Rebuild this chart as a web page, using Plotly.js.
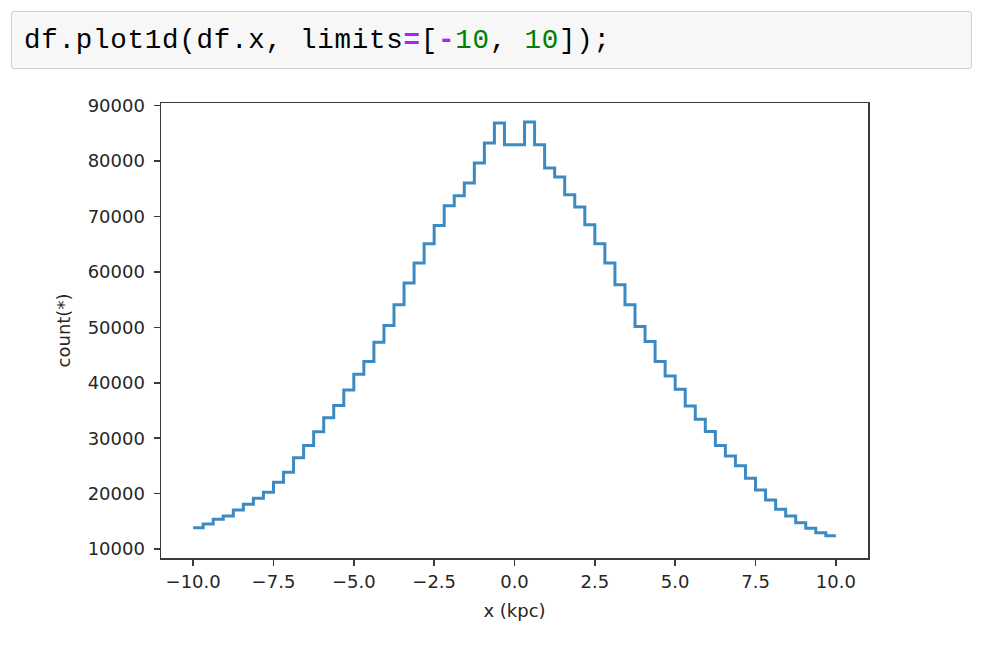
<!DOCTYPE html>
<html>
<head>
<meta charset="utf-8">
<script src="https://cdn.plot.ly/plotly-3.0.1.min.js"></script>
<style>
  html, body { margin: 0; padding: 0; background: #ffffff; width: 986px; height: 650px; overflow: hidden; }
  #chart { position: absolute; left: 0; top: 0; width: 986px; height: 650px; }
  #cell {
    position: absolute; left: 11px; top: 11px; width: 959px; height: 56px;
    background: #f7f7f7; border: 1px solid #cfcfcf; border-radius: 3px;
    z-index: 5;
  }
  #code {
    position: absolute; left: 12px; top: 14px; margin: 0;
    font-family: "Liberation Mono", "DejaVu Sans Mono", monospace;
    font-size: 27.5px; line-height: 30px; color: #000; white-space: pre;
    letter-spacing: 0.75px;
  }
  .op { color: #aa22ff; font-weight: bold; }
  .num { color: #008000; }
</style>
</head>
<body>
<div id="chart"></div>
<div id="cell"><pre id="code">df.plot1d(df.x, limits<span class="op">=</span>[<span class="op">-</span><span class="num">10</span>, <span class="num">10</span>]);</pre></div>
<script>
// Histogram of df.x, 64 bins over limits [-10, 10]
const limits = [-10, 10];
const counts = [
  13850, 14520, 15360, 15960, 17040, 18070, 19150, 20240,
  22050, 23850, 26490, 28660, 31180, 33710, 35880, 38710,
  41550, 43830, 47330, 50330, 54070, 58000, 61600, 65080,
  68390, 71950, 73750, 76040, 79650, 83270, 86880, 82960,
  82960, 87060, 82960, 78750, 77130, 73930, 71710, 68510,
  65080, 61600, 57680, 54070, 50150, 47440, 43830, 41240,
  38840, 35830, 33420, 31190, 28660, 26800, 25050, 22770,
  20660, 18850, 17170, 15960, 14750, 13740, 12940, 12400
];
const xTickVals = [-10, -7.5, -5, -2.5, 0, 2.5, 5, 7.5, 10];
const xTickText = ['\u221210.0', '\u22127.5', '\u22125.0', '\u22122.5', '0.0', '2.5', '5.0', '7.5', '10.0'];
const yTickVals = [10000, 20000, 30000, 40000, 50000, 60000, 70000, 80000, 90000];
const yTickText = ['10000', '20000', '30000', '40000', '50000', '60000', '70000', '80000', '90000'];
const xTitle = 'x (kpc)';
const yTitle = 'count(*)';

// bin edges from the limits (as vaex bins them)
const nBins = counts.length;
const edges = [];
for (let i = 0; i <= nBins; i++) edges.push(limits[0] + (limits[1] - limits[0]) * i / nBins);
const ySteps = counts.concat([counts[nBins - 1]]);

const trace = {
  x: edges, y: ySteps, type: 'scatter', mode: 'lines',
  line: { shape: 'hv', color: '#3d8ac3', width: 3 },
  hoverinfo: 'skip'
};

const axisFont = { family: 'DejaVu Sans, sans-serif', size: 18, color: '#262626' };
const layout = {
  width: 986, height: 650,
  margin: { l: 161, r: 118, t: 103, b: 92, pad: 0 },
  paper_bgcolor: 'rgba(0,0,0,0)', plot_bgcolor: '#ffffff',
  showlegend: false,
  xaxis: {
    range: [-11, 11], tickvals: xTickVals, ticktext: xTickText,
    showgrid: false, zeroline: false,
    showline: true, mirror: true, linecolor: '#3a3a3a', linewidth: 1.5,
    ticks: 'outside', ticklen: 6, tickwidth: 1.5, tickcolor: '#3a3a3a',
    tickfont: axisFont, ticklabelstandoff: 1,
    title: { text: xTitle, font: axisFont, standoff: 13 }
  },
  yaxis: {
    range: [8380, 90490], tickvals: yTickVals, ticktext: yTickText,
    showgrid: false, zeroline: false,
    showline: true, mirror: true, linecolor: '#3a3a3a', linewidth: 1.5,
    ticks: 'outside', ticklen: 6, tickwidth: 1.5, tickcolor: '#3a3a3a',
    tickfont: axisFont, ticklabelstandoff: 5,
    title: { text: yTitle, font: axisFont, standoff: 12 }
  }
};
Plotly.newPlot('chart', [trace], layout, { staticPlot: true, displayModeBar: false });
</script>
</body>
</html>
